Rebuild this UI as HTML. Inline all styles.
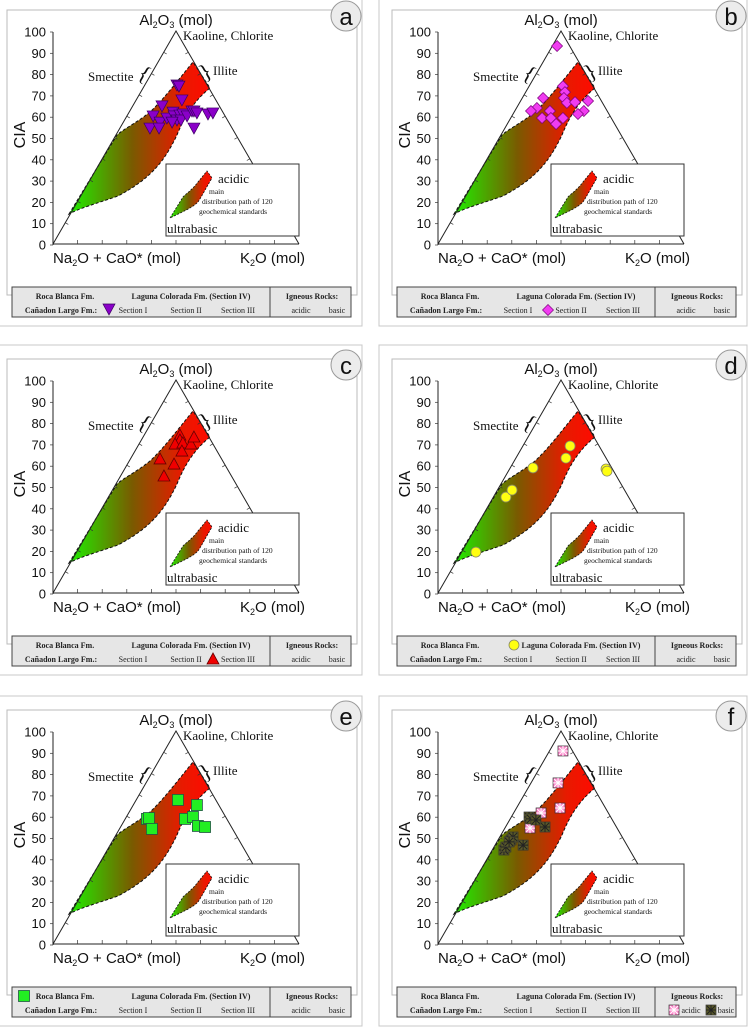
<!DOCTYPE html>
<html><head><meta charset="utf-8">
<style>
html,body{margin:0;padding:0;background:#fff;}
svg{display:block;}
.ax{font-family:"Liberation Sans",Arial,sans-serif;fill:#111;}
.sr{font-family:"Liberation Serif",serif;fill:#111;}
.lg{font-family:"Liberation Serif",serif;font-size:8px;fill:#222;}
</style></head>
<body>
<svg id="fig" width="748" height="1027" viewBox="0 0 748 1027" xmlns="http://www.w3.org/2000/svg">
<defs>
<linearGradient id="gr" x1="0" x2="1" y1="0" y2="0">
<stop offset="0" stop-color="#1ef000"/>
<stop offset="0.45" stop-color="#7a5a00"/>
<stop offset="0.8" stop-color="#e81a00"/>
<stop offset="1" stop-color="#ff0a00"/>
</linearGradient>
</defs>
</svg>
<script>
// ---- data: K = position along base (0..100), CIA = 0..100
const panelLetters = ['a','b','c','d','e','f'];
const aK = [50.4,51.2,52.4,44.3,40.7,43.5,39.4,43.1,46.3,48.8,49.2,50.4,51.6,52.8,52.0,54.5,56.5,57.3,58.5,57.3,63.0,65.0,48.4];
const aCIA = [75.1,74.6,68.1,65.3,60.6,57.7,54.9,54.9,59.6,62.4,60.6,58.7,61.0,61.5,58.7,60.6,62.9,62.9,62.0,54.9,61.5,62.0,57.7];
const bK = [48.4,50.8,51.6,51.2,52.4,55.7,61.0,42.7,40.2,37.8,45.5,59.3,56.9,42.3,45.9,50.8,48.0];
const bCIA = [93.4,74.6,71.8,69.0,66.7,67.1,67.6,69.0,64.3,62.9,62.9,62.9,61.5,59.6,59.6,59.6,56.8];
const cK = [51.6,51.6,49.6,52.8,56.1,57.3,52.4,43.5,49.2,45.1];
const cCIA = [74.6,72.3,70.4,70.9,70.4,73.7,67.1,63.4,61.0,55.4];
const dK = [15.4,27.6,30.1,38.6,52.0,53.7,68.3,68.7];
const dCIA = [19.7,45.5,48.8,59.2,63.8,69.5,58.7,57.7];
const eK = [38.2,39.0,40.2,50.8,53.7,56.9,58.5,58.9,61.8];
const eCIA = [59.2,59.6,54.5,68.1,59.2,60.1,65.7,55.9,55.4];
const fAcidK = [50.8,48.8,49.6,41.9,37.4];
const fAcidCIA = [91.1,76.1,64.3,62.0,54.9];
const fBasicK = [26.8,27.6,29.7,30.5,28.9,34.6,37.0,37.8,39.8,43.5];
const fBasicCIA = [44.6,46.0,49.3,50.7,48.4,46.9,60.1,59.2,58.7,55.4];
const yTicks = [0,10,20,30,40,50,60,70,80,90,100];

const NS='http://www.w3.org/2000/svg';
const svg=document.getElementById('fig');
function mk(tag,attrs,parent,txt){const e=document.createElementNS(NS,tag);for(const k in attrs)e.setAttribute(k,attrs[k]);if(txt!==undefined)e.textContent=txt;(parent||svg).appendChild(e);return e;}
const xS=k=>53+2.46*k;
const yS=v=>245-2.13*v;

function marker(g,type,x,y,name){
  let e;
  if(type==='tdown'){e=mk('path',{d:`M${x-6},${y-5}L${x+6},${y-5}L${x},${y+6}Z`,fill:'#8a00c8',stroke:'#3a0060','stroke-width':0.7},g);}
  else if(type==='diamond'){e=mk('path',{d:`M${x},${y-5.5}L${x+5.5},${y}L${x},${y+5.5}L${x-5.5},${y}Z`,fill:'#f03cf0',stroke:'#7a007a','stroke-width':0.7},g);}
  else if(type==='tup'){e=mk('path',{d:`M${x},${y-6}L${x+6},${y+5}L${x-6},${y+5}Z`,fill:'#f00000',stroke:'#600','stroke-width':0.8},g);}
  else if(type==='circle'){e=mk('circle',{cx:x,cy:y,r:5,fill:'#ffff10',stroke:'#886','stroke-width':0.8},g);}
  else if(type==='square'){e=mk('rect',{x:x-5.5,y:y-5.5,width:11,height:11,fill:'#22ee22',stroke:'#254','stroke-width':0.8},g);}
  else if(type==='acid'||type==='basic'){
    const fill=type==='acid'?'#ff88cc':'#5a5a28';
    e=mk('g',{},g);
    mk('rect',{x:x-5,y:y-5,width:10,height:10,fill:fill,stroke:'#333','stroke-width':0.7},e);
    mk('path',{d:`M${x-4},${y-4}L${x+4},${y+4}M${x+4},${y-4}L${x-4},${y+4}M${x},${y-5}L${x},${y+5}M${x-5},${y}L${x+5},${y}`,stroke:type==='acid'?'#fff':'#222','stroke-width':1},e);
  }
  
  
  return e;
}

const offsets=[[0,0],[385,0],[0,349],[385,349],[0,700],[385,700]];
const series=[
  [[aK,aCIA,'tdown']],
  [[bK,bCIA,'diamond']],
  [[cK,cCIA,'tup']],
  [[dK,dCIA,'circle']],
  [[eK,eCIA,'square']],
  [[fAcidK,fAcidCIA,'acid'],[fBasicK,fBasicCIA,'basic']]
];

panelLetters.forEach((L,i)=>{
  const [ox,oy]=offsets[i];
  const g=mk('g',{transform:`translate(${ox},${oy})`});
  
  
  mk('rect',{x:-6,y:-4,width:368,height:330,fill:'none',stroke:'#c8c8c8','stroke-width':1},g);
  const fr=mk('rect',{x:7,y:10,width:350,height:285,fill:'#fff',stroke:'#bbb','stroke-width':1},g);
  
  
  const reg=mk('path',{d:'M69,214 L117,135 C125,128 135,124 150,112 C165,98 178,80 193,62 L210,88 C195,100 185,115 177,135 C165,160 152,178 118,196 C95,204 80,208 69,214 Z',fill:'url(#gr)',stroke:'#111','stroke-width':1,'stroke-dasharray':'3,2'},g);
  
  
  const tri=mk('path',{d:'M53,244 L176,31 L299,244',fill:'none',stroke:'#222','stroke-width':1},g);
  
  
  const base=mk('line',{x1:53,y1:244,x2:299,y2:244,stroke:'#222','stroke-width':1},g);
  
  
  const ya=mk('line',{x1:53,y1:32,x2:53,y2:245,stroke:'#222','stroke-width':1},g);
  
  
  for(let t=1;t<10;t++){
    const bx=53+24.6*t;
    mk('line',{x1:bx,y1:244,x2:bx,y2:240,stroke:'#333','stroke-width':0.7},g);
    const lx=53+12.3*t,ly=244-21.3*t;
    mk('line',{x1:lx,y1:ly,x2:lx+3,y2:ly+1.7,stroke:'#333','stroke-width':0.7},g);
    const rx=299-12.3*t;
    mk('line',{x1:rx,y1:ly,x2:rx-3,y2:ly+1.7,stroke:'#333','stroke-width':0.7},g);
  }
  yTicks.forEach(v=>{
    mk('line',{x1:50,y1:yS(v),x2:53,y2:yS(v),stroke:'#333','stroke-width':0.7},g);
    const t=mk('text',{x:46,y:yS(v)+4.5,'text-anchor':'end','font-size':13,class:'ax'},g,String(v));
    
    
  });
  let t;
  t=mk('text',{x:0,y:0,transform:'translate(25,135) rotate(-90)','text-anchor':'middle','font-size':16,class:'ax'},g,'CIA');
  
  t=mk('text',{x:176,y:25,'text-anchor':'middle','font-size':15,class:'ax'},g);
  t.innerHTML='Al<tspan font-size="9" dy="3">2</tspan><tspan dy="-3">O</tspan><tspan font-size="9" dy="3">3</tspan><tspan dy="-3"> (mol)</tspan>';
  
  t=mk('text',{x:183,y:40,'font-size':13,class:'sr'},g,'Kaoline, Chlorite');
  
  t=mk('text',{x:88,y:81,'font-size':13,class:'sr'},g,'Smectite');
  
  mk('text',{x:0,y:0,transform:'translate(141,80) rotate(30)','text-anchor':'middle','font-size':22,class:'sr'},g,'{');
  mk('text',{x:0,y:0,transform:'translate(209,78) rotate(-30)','text-anchor':'middle','font-size':22,class:'sr'},g,'}');
  t=mk('text',{x:213,y:75,'font-size':13,class:'sr'},g,'Illite');
  
  t=mk('text',{x:53,y:263,'font-size':15,class:'ax'},g);
  t.innerHTML='Na<tspan font-size="9" dy="3">2</tspan><tspan dy="-3">O + CaO* (mol)</tspan>';
  
  t=mk('text',{x:240,y:263,'font-size':15,class:'ax'},g);
  t.innerHTML='K<tspan font-size="9" dy="3">2</tspan><tspan dy="-3">O (mol)</tspan>';
  
  const ins=mk('g',{},g);
  
  mk('rect',{x:166,y:164,width:133,height:72,fill:'#fff',stroke:'#333','stroke-width':1},ins);
  mk('path',{d:'M170,218 L183,197 C188,192 192,190 198,182 L207,171 L212,178 C206,188 202,196 198,202 C192,208 182,212 170,218 Z',fill:'url(#gr)',stroke:'#111','stroke-width':0.8,'stroke-dasharray':'2,1.5'},ins);
  mk('text',{x:218,y:183,'font-size':13,class:'sr'},ins,'acidic');
  mk('text',{x:209,y:194,'font-size':7.5,class:'sr'},ins,'main');
  mk('text',{x:202,y:204,'font-size':7.5,class:'sr'},ins,'distribution path of 120');
  mk('text',{x:199,y:214,'font-size':7.5,class:'sr'},ins,'geochemical standards');
  mk('text',{x:167,y:233,'font-size':13,class:'sr'},ins,'ultrabasic');
  const lc=mk('g',{},g);
  
  mk('circle',{cx:346,cy:16,r:15,fill:'#ececec',stroke:'#999','stroke-width':1},lc);
  mk('text',{x:346,y:25,'text-anchor':'middle','font-size':24,class:'ax'},lc,L);
  const pg=mk('g',{},g);
  
  series[i].forEach(([K,C,type])=>{
    K.forEach((k,j)=>marker(pg,type,xS(k),yS(C[j]),'point-'+type));
  });
  const lb=mk('g',{},g);
  
  mk('rect',{x:12,y:287,width:339,height:30,fill:'#e6e6e6',stroke:'#444','stroke-width':1},lb);
  mk('line',{x1:270,y1:287,x2:270,y2:317,stroke:'#444','stroke-width':1},lb);
  const B={'font-weight':'bold','text-anchor':'middle',class:'lg'};
  const N={'text-anchor':'middle',class:'lg'};
  const lt=(x,y,s,st)=>{const e=mk('text',Object.assign({x:x,y:y},st),lb,s);};
  lt(65,299,'Roca Blanca Fm.',B);
  lt(i===3?196:191,299,'Laguna Colorada Fm. (Section IV)',B);
  lt(312,299,'Igneous Rocks:',B);
  lt(61,313,'Cañadon Largo Fm.:',B);
  lt(133,313,'Section I',N);
  lt(186,313,'Section II',N);
  lt(238,313,'Section III',N);
  lt(i===5?306:301,313,'acidic',N);
  lt(i===5?341:337,313,'basic',N);
  if(i===0)marker(lb,'tdown',109,309,'legend-marker');
  if(i===1)marker(lb,'diamond',163,310,'legend-marker');
  if(i===2)marker(lb,'tup',213,310,'legend-marker');
  if(i===3)marker(lb,'circle',129,296,'legend-marker');
  if(i===4)marker(lb,'square',24,296,'legend-marker');
  if(i===5){marker(lb,'acid',289,310,'legend-marker');marker(lb,'basic',326,310,'legend-marker');}
});
</script>
</body></html>
